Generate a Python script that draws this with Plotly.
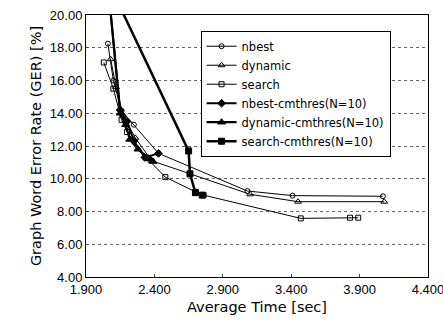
import plotly.graph_objects as go

# Data
nbest_x = [2.06, 2.10, 2.16, 2.25, 2.43, 3.08, 3.41, 4.07]
nbest_y = [18.25, 16.0, 14.15, 13.3, 11.55, 9.25, 8.97, 8.93]

dynamic_x = [2.08, 2.12, 2.17, 2.26, 2.38, 3.10, 3.45, 4.08]
dynamic_y = [17.3, 15.6, 13.9, 12.5, 11.1, 9.05, 8.6, 8.6]

search_x = [2.03, 2.10, 2.16, 2.20, 2.34, 2.48, 2.70, 2.76, 3.47, 3.83, 3.89]
search_y = [17.1, 15.5, 13.6, 12.85, 11.3, 10.1, 9.2, 9.0, 7.58, 7.62, 7.62]

nbest_cm_x = [2.07, 2.15, 2.20, 2.25, 2.33, 2.43]
nbest_cm_y = [21.0, 14.2, 13.5, 12.3, 11.3, 11.55]

dynamic_cm_x = [2.07, 2.15, 2.19, 2.22, 2.28, 2.37, 2.39]
dynamic_cm_y = [21.0, 14.0, 13.3, 12.4, 11.8, 11.2, 11.05]

search_cm_x = [2.12, 2.65, 2.66, 2.70, 2.75]
search_cm_y = [21.0, 11.7, 10.3, 9.15, 9.0]

x_ticks = [1.9, 2.4, 2.9, 3.4, 3.9, 4.4]
y_ticks = [4, 6, 8, 10, 12, 14, 16, 18, 20]

series = [
    ("nbest", nbest_x, nbest_y, "circle-open", 1, 5),
    ("dynamic", dynamic_x, dynamic_y, "triangle-up-open", 1, 6),
    ("search", search_x, search_y, "square-open", 1, 5),
    ("nbest-cmthres(N=10)", nbest_cm_x, nbest_cm_y, "diamond", 2, 6),
    ("dynamic-cmthres(N=10)", dynamic_cm_x, dynamic_cm_y, "triangle-up", 2.2, 7),
    ("search-cmthres(N=10)", search_cm_x, search_cm_y, "square", 2.5, 6),
]

fig = go.Figure()
for name, xs, ys, sym, lw, ms in series:
    fig.add_trace(go.Scatter(
        x=xs, y=ys, name=name, mode="lines+markers",
        line=dict(color="black", width=lw),
        marker=dict(symbol=sym, size=ms, color="black",
                    line=dict(color="black", width=1)),
    ))

font_family = "DejaVu Sans, sans-serif"
tick_family = "Liberation Sans, Arial, sans-serif"
fig.update_layout(
    width=443, height=330,
    margin=dict(l=86, r=15, t=15, b=53, autoexpand=False),
    paper_bgcolor="white", plot_bgcolor="white",
    font=dict(family=font_family, size=12, color="black"),
    showlegend=True,
    legend=dict(
        x=0.335, y=0.94, xanchor="left", yanchor="top",
        bgcolor="white", bordercolor="black", borderwidth=1,
        font=dict(size=11.5, family=font_family), tracegroupgap=0,
        itemwidth=30,
    ),
    xaxis=dict(
        range=[1.9, 4.4], tickmode="array", tickvals=x_ticks,
        ticktext=[f"{v:.3f}" for v in x_ticks],
        ticklabeloverflow="allow", automargin=False,
        showgrid=False, zeroline=False,
        showline=True, linecolor="black", linewidth=1, mirror=True,
        ticks="inside", ticklen=3,
        tickfont=dict(size=13, family=tick_family),
        title=dict(text="Average Time [sec]", font=dict(size=14.5), standoff=6),
    ),
    yaxis=dict(
        range=[4, 20], tickmode="array", tickvals=y_ticks,
        ticktext=[f"{v:.2f}" for v in y_ticks],
        ticklabeloverflow="allow", automargin=False,
        showgrid=True, gridcolor="#666", griddash="dot", gridwidth=1,
        zeroline=False,
        showline=True, linecolor="black", linewidth=1, mirror=True,
        ticks="inside", ticklen=3,
        tickfont=dict(size=13, family=tick_family),
        title=dict(text="Graph Word Error Rate (GER) [%]", font=dict(size=14.5), standoff=4),
    ),
)

fig.write_html("out.html")
